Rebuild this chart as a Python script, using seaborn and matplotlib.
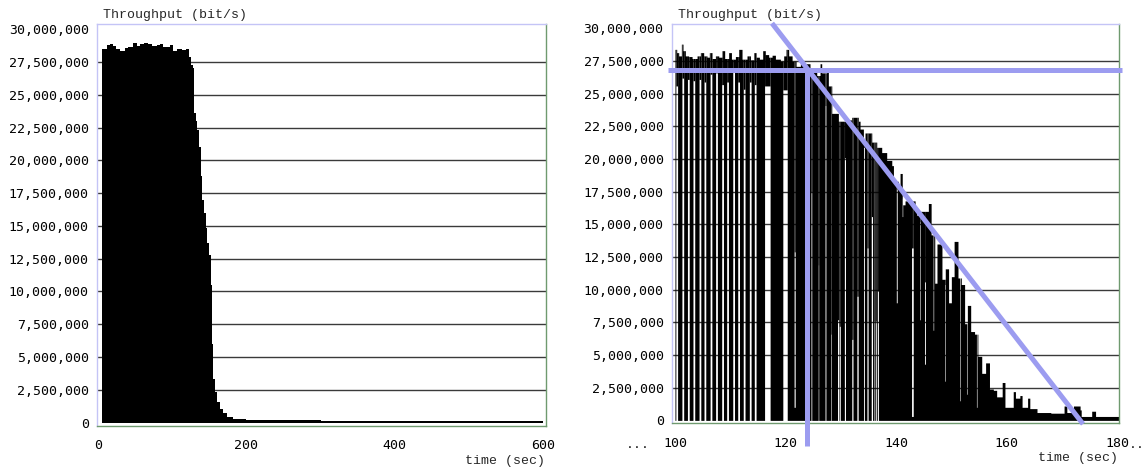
import numpy as np
import pandas as pd
import matplotlib
matplotlib.use("Agg")
import matplotlib.pyplot as plt
import seaborn as sns

# ---- left chart: whole transfer, 0-600 s ----
# bin edges (sec) and throughput per bin (Mbit/s)
left_edges = [6, 12, 16, 20, 24, 30, 36, 41, 47, 53, 57, 62, 67, 73, 80, 84, 88,
              93, 97, 101, 107, 113, 118, 123, 126, 128.5, 129.5, 131.5, 134,
              136, 138.5, 140.5, 143, 145, 147.5, 150, 152, 154, 155.5, 157.5,
              160, 164, 169, 174, 182, 200, 240, 300, 400, 500, 600]
left_mbps = [28.46, 28.8, 28.85, 28.7, 28.45, 28.3, 28.55, 28.6, 28.95, 28.75,
             28.9, 28.95, 28.85, 28.7, 28.8, 28.85, 28.6, 28.65, 28.8, 28.3,
             28.45, 28.4, 28.45, 27.9, 27.3, 27.0, 23.6, 23.0, 22.3, 21.0,
             18.8, 17.0, 16.0, 14.8, 13.7, 12.8, 10.5, 6.0, 3.3, 2.3,
             1.6, 1.0, 0.7, 0.4, 0.25, 0.2, 0.17, 0.15, 0.15, 0.15]

# ---- right chart: 100-180 s zoom ----
# upper envelope as steps: start time (sec) -> Mbit/s
right_t = [100.0, 100.3, 100.66, 101.15, 101.45, 101.87, 102.47, 103.08, 103.98,
           104.59, 105.19, 105.79, 106.21, 106.7, 107.3, 107.9, 108.5, 108.99,
           109.71, 110.2, 110.92, 111.52, 112.13, 113.03, 113.64, 114.24, 114.66,
           115.26, 115.87, 116.35, 116.95, 117.56, 118.16, 119.06, 119.67, 120.09,
           120.57, 121.18, 121.9, 122.68,
           124.43, 125.64, 126.25, 126.55, 127.45, 127.75, 128.36, 129.56, 131.37,
           131.98, 133.18, 133.48, 134.09, 134.39, 135.6, 136.5, 137.41, 138.31,
           139.22, 139.52, 140.42, 140.72, 141.15, 141.63, 143.44, 143.74, 144.34,
           145.85, 146.34, 147.0, 147.4, 148.3,
           148.9, 149.5, 150.0, 150.5, 151.2, 151.8, 152.4, 152.9, 153.5, 154.2,
           154.8, 155.5, 156.2, 156.9, 157.6, 158.2, 159.2, 159.7, 161.2, 161.6,
           162.4, 162.8, 163.8, 164.2, 165.5, 168.0, 170.4, 170.9, 172.1, 173.3,
           173.5, 175.4, 176.1]
right_mbps = [28.4, 28.15, 27.9, 28.8, 28.3, 27.9, 27.85, 27.7, 27.9,
              28.15, 27.9, 27.8, 28.15, 27.7, 27.9, 27.8, 28.3, 27.7,
              28.15, 27.65, 27.85, 28.4, 27.65, 27.9, 27.6, 28.15, 27.8,
              27.65, 28.3, 28.0, 27.8, 27.95, 27.65, 27.5, 27.9, 28.4,
              27.9, 27.5, 27.1, 27.3,
              26.7, 26.4, 27.3, 26.6, 26.8, 25.6, 23.5, 22.9, 23.0,
              23.2, 22.9, 22.3, 21.5, 22.0, 21.3, 20.9, 20.5, 19.9,
              19.5, 18.3, 18.0, 18.9, 16.5, 16.8, 16.0, 15.7, 16.0,
              16.6, 14.2, 10.5, 13.5, 10.8,
              11.6, 9.0, 11.0, 13.7, 10.9, 10.4, 7.4, 8.8, 6.8, 6.6,
              4.9, 3.6, 4.4, 2.4, 2.3, 1.8, 2.9, 1.0, 2.2, 1.7,
              1.9, 1.0, 1.7, 0.9, 0.6, 0.55, 1.1, 0.6, 1.1, 0.8,
              0.3, 0.7, 0.3]

# white gaps in the black area: start, end (sec), bottom, top (Mbit/s)
gap_start = [100.14, 101.24, 102.24, 103.24, 104.34, 105.24, 106.34, 107.34,
             108.44, 109.34, 110.44, 111.34, 112.34, 113.44, 114.34,
             116.2, 119.5, 121.55,
             124.6, 125.9, 127.15, 128.15, 129.4, 129.7, 130.65, 131.98,
             132.9, 134.1, 134.72, 135.5, 136.0, 136.3, 136.6,
             140.05, 141.1, 142.8, 144.3, 145.15, 146.7, 148.85, 151.55,
             152.75, 154.55]
gap_end = [100.46, 101.56, 102.56, 103.56, 104.66, 105.56, 106.66, 107.66,
           108.76, 109.66, 110.76, 111.66, 112.66, 113.76, 114.66,
           117.2, 120.3, 121.75,
           124.75, 126.0, 127.3, 128.25, 129.6, 129.9, 130.85, 132.2,
           133.15, 134.27, 134.95, 135.75, 136.15, 136.45, 136.8,
           140.2, 141.2, 143.1, 144.4, 145.3, 146.8, 148.95, 151.65,
           152.85, 154.65]
gap_bottom = [0, 0, 0, 0, 0, 0, 0, 0,
              0, 0, 0, 0, 0, 0, 0,
              0, 0, 1.0,
              0, 0, 0, 0, 0, 0, 0, 0,
              0, 0, 0, 0, 0, 0, 0,
              9.0, 15.6, 0.3, 7.7, 4.3, 6.9, 3.0, 1.5,
              2.0, 1.0]
gap_top = [25.6, 26.2, 26.1, 26.0, 26.1, 25.9, 26.5, 26.6,
           25.7, 25.9, 26.75, 25.9, 25.35, 25.9, 25.7,
           25.6, 25.3, 12.9,
           17.5, 11.9, 24.1, 6.6, 7.7, 7.2, 20.1, 6.2,
           9.5, 20.9, 13.2, 15.6, 7.6, 7.6, 9.9,
           17.7, 17.0, 13.2, 15.2, 10.6, 14.4, 10.4, 10.9,
           7.4, 6.6]

# guide lines drawn over the right chart (sec, Mbit/s)
hguide_t, hguide_mbps = [98.7, 180.9], [26.8, 26.8]
vguide_t, vguide_mbps = [123.9, 123.9], [26.8, -2.0]
dguide_t, dguide_mbps = [117.56, 173.85], [30.4, -0.28]

left_ticks = [0, 200, 400, 600]
right_ticks = [100, 120, 140, 160, 180]
y_ticks = np.arange(0, 30_000_001, 2_500_000)

sns.set_style("white")
plt.rcParams["font.family"] = ["DejaVu Sans Mono", "DejaVu Sans"]

LAV = "#c4c4f6"
GREEN = "#6f9a6f"
GUIDE = "#9c9cf0"
GRID = "#3a3a3a"

fig = plt.figure(figsize=(11.43, 4.71), dpi=100)
ax1 = fig.add_axes([0.0849, 0.0966, 0.3928, 0.8524])
ax2 = fig.add_axes([0.5879, 0.1025, 0.3911, 0.8465])

# left: step-filled histogram weighted by throughput
edges = np.array(left_edges, dtype=float)
left_df = pd.DataFrame({"t": (edges[:-1] + edges[1:]) / 2,
                        "bps": np.array(left_mbps) * 1e6})
sns.histplot(data=left_df, x="t", weights="bps", bins=list(edges),
             element="step", fill=True, color="black", alpha=1, linewidth=0,
             ax=ax1, zorder=2)

# right: envelope minus the white gaps
grid = np.arange(100.0, 180.4, 0.02)
rt = np.array(right_t)
env = np.array(right_mbps)[np.searchsorted(rt, grid, side="right") - 1]
low_top = env.copy()
up_bot = env.copy()
for s, e, b, t in zip(gap_start, gap_end, gap_bottom, gap_top):
    m = (grid >= s) & (grid < e)
    low_top[m] = np.minimum(b, env[m])
    up_bot[m] = np.minimum(t, env[m])
ax2.fill_between(grid, 0, low_top * 1e6, step="post", color="black", lw=0, zorder=2)
ax2.fill_between(grid, up_bot * 1e6, env * 1e6, step="post", color="black", lw=0, zorder=2)

for ax, xl, yl, xt in [(ax1, (-1.35, 604), (-220_000, 30_390_000), left_ticks),
                       (ax2, (99.46, 180.36), (-180_000, 30_340_000), right_ticks)]:
    ax.set_xlim(*xl)
    ax.set_ylim(*yl)
    ax.set_xticks(xt)
    ax.set_xticklabels([str(v) for v in xt], fontsize=9.5)
    ax.set_yticks(y_ticks)
    ax.set_yticklabels([f"{int(v):,}" for v in y_ticks], fontsize=9.5)
    ax.set_xlabel("")
    ax.set_ylabel("")
    for v in y_ticks[1:-1]:
        ax.axhline(v, color=GRID, lw=1.0, zorder=1)
    ax.tick_params(axis="x", direction="out", length=9, width=0.9, color="black",
                   pad=1, labelcolor="black")
    ax.tick_params(axis="y", direction="out", length=2, width=0.9, color=GRID,
                   pad=4, labelcolor="black")
    ax.spines["top"].set_color(LAV)
    ax.spines["left"].set_color(LAV)
    ax.spines["right"].set_color(GREEN)
    ax.spines["bottom"].set_color(GREEN)
    for sp in ax.spines.values():
        sp.set_linewidth(1.0)
        sp.set_visible(True)
    ax.text(0.013, 1.022, "Throughput (bit/s)", transform=ax.transAxes,
            ha="left", va="center", fontsize=9.5, family=["Liberation Mono", "DejaVu Sans Mono"])
    ax.text(0.998, -0.088, "time (sec)", transform=ax.transAxes,
            ha="right", va="center", fontsize=9.5, family=["Liberation Mono", "DejaVu Sans Mono"])

ax2.annotate("...", xy=(100, 0), xycoords=("data", "axes fraction"),
             xytext=(-18, -15.5), textcoords="offset points",
             ha="right", va="center", fontsize=9.5, annotation_clip=False)
ax2.annotate("..", xy=(180, 0), xycoords=("data", "axes fraction"),
             xytext=(8.6, -15.5), textcoords="offset points",
             ha="left", va="center", fontsize=9.5, annotation_clip=False)

for gt, gv in [(hguide_t, hguide_mbps), (vguide_t, vguide_mbps), (dguide_t, dguide_mbps)]:
    ax2.plot(gt, np.array(gv) * 1e6, color=GUIDE, lw=3.6, solid_capstyle="butt",
             clip_on=False, zorder=5)

fig.savefig("out.png", dpi=100, facecolor="white")
